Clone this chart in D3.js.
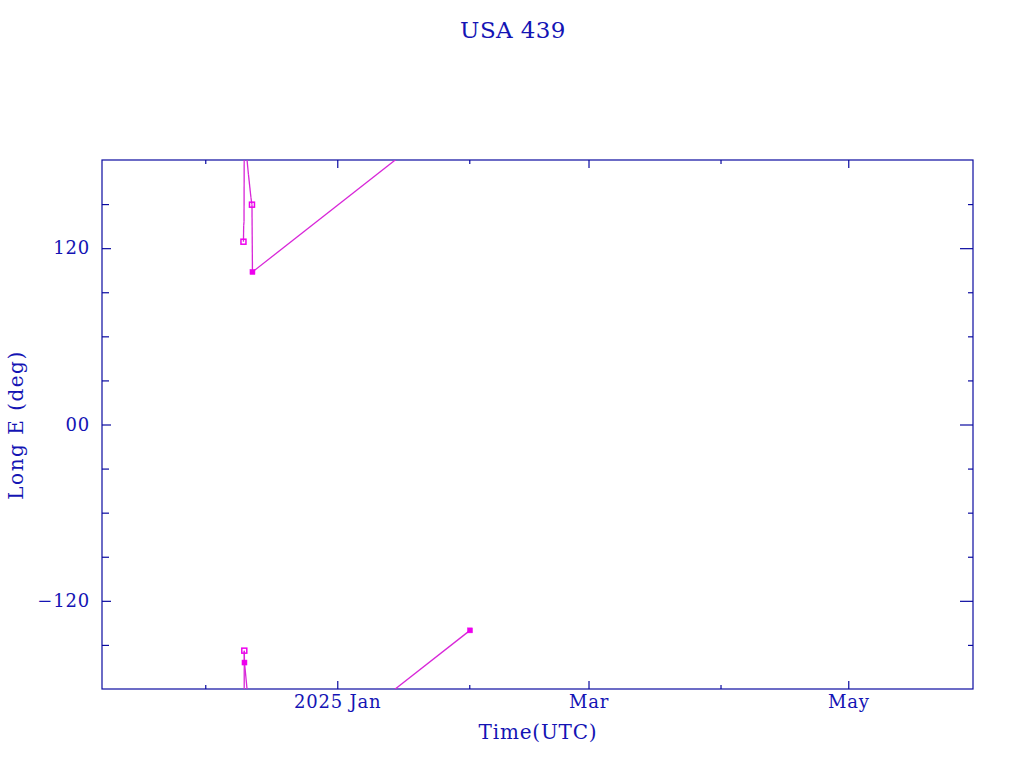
<!DOCTYPE html>
<html>
<head>
<meta charset="utf-8">
<script src="https://cdn.jsdelivr.net/npm/d3@7"></script>
<style>
  html, body { margin: 0; padding: 0; background: #ffffff; }
  svg text { font-family: "DejaVu Serif", "Liberation Serif", serif; fill: #1414b4; }
</style>
</head>
<body>
<svg id="chart" width="1024" height="768"></svg>
<script>
// ---- data ----
const title = "USA 439";
const xLabel = "Time(UTC)";
const yLabel = "Long E (deg)";
const times = [
  "2024-12-09T23:15:00Z", "2024-12-10T00:30:00Z", "2024-12-10T02:30:00Z",
  "2024-12-10T04:00:00Z", "2024-12-10T05:00:00Z", "2024-12-11T03:30:00Z",
  "2024-12-11T17:30:00Z", "2024-12-11T23:15:00Z", "2024-12-12T02:00:00Z",
  "2025-02-01T04:00:00Z"
];
const longitudes = [124.4, 135.3, 138.0, -153.9, -162.0, 170.0, 154.3, 149.6, 103.8, -140.1];
const markers = ["open", "", "", "open", "filled", "", "", "open", "filled", "filled"];
const xDomain = ["2024-11-06T18:00:00Z", "2025-05-30T07:00:00Z"];
const xMajorTicks = ["2025-01-01T00:00:00Z", "2025-03-01T00:00:00Z", "2025-05-01T00:00:00Z"];
const xMajorLabels = ["2025 Jan", "Mar", "May"];
const xMinorTicks = ["2024-12-01T00:00:00Z", "2025-02-01T00:00:00Z", "2025-04-01T00:00:00Z"];
const yMajorTicks = [-120, 0, 120];
const yMajorLabels = ["\u2212120", "00", "120"];
const yMinorTicks = [-150, -90, -60, -30, 30, 60, 90, 150];

// ---- layout ----
const L = 102, R = 973, T = 160, B = 689;
const frameColor = "#0a0aa0";
const lineColor = "#d826d8";
const markColor = "#ee00ee";

const svg = d3.select("#chart");
const x = d3.scaleUtc().domain(xDomain.map(d => new Date(d))).range([L, R]);
const y = d3.scaleLinear().domain([-180, 180]).range([B, T]);

const pts = times.map((t, i) => ({ t: new Date(t), lon: longitudes[i], m: markers[i] }));

// clip
svg.append("defs").append("clipPath").attr("id", "plotclip")
  .append("rect").attr("x", L).attr("y", T).attr("width", R - L).attr("height", B - T);

// frame
svg.append("rect").attr("x", L).attr("y", T).attr("width", R - L).attr("height", B - T)
  .attr("fill", "none").attr("stroke", frameColor).attr("stroke-width", 1.2);

function styleAxis(g) {
  g.select(".domain").remove();
  g.selectAll(".tick line").attr("stroke", frameColor).attr("stroke-width", 1.2);
  g.selectAll(".tick text").style("font-size", "18px").style("letter-spacing", "0.8px")
    .attr("fill", "#1414b4");
}

// bottom axis
const xMajorDates = xMajorTicks.map(d => new Date(d));
const xMinorDates = xMinorTicks.map(d => new Date(d));
svg.append("g").attr("transform", `translate(0,${B})`)
  .call(d3.axisBottom(x).tickValues(xMajorDates).tickSize(-8).tickPadding(6)
    .tickFormat((d, i) => xMajorLabels[i]))
  .call(styleAxis);
svg.append("g").attr("transform", `translate(0,${B})`)
  .call(d3.axisBottom(x).tickValues(xMinorDates).tickSize(-4).tickFormat(""))
  .call(styleAxis);
// top axis
svg.append("g").attr("transform", `translate(0,${T})`)
  .call(d3.axisTop(x).tickValues(xMajorDates).tickSize(-8).tickFormat(""))
  .call(styleAxis);
svg.append("g").attr("transform", `translate(0,${T})`)
  .call(d3.axisTop(x).tickValues(xMinorDates).tickSize(-4).tickFormat(""))
  .call(styleAxis);
// left axis
svg.append("g").attr("transform", `translate(${L},0)`)
  .call(d3.axisLeft(y).tickValues(yMajorTicks).tickSize(-9).tickPadding(12)
    .tickFormat((d, i) => yMajorLabels[i]))
  .call(styleAxis);
svg.append("g").attr("transform", `translate(${L},0)`)
  .call(d3.axisLeft(y).tickValues(yMinorTicks).tickSize(-7).tickFormat(""))
  .call(styleAxis);
// right axis
svg.append("g").attr("transform", `translate(${R},0)`)
  .call(d3.axisRight(y).tickValues(yMajorTicks).tickSize(-13).tickFormat(""))
  .call(styleAxis);
svg.append("g").attr("transform", `translate(${R},0)`)
  .call(d3.axisRight(y).tickValues(yMinorTicks).tickSize(-5).tickFormat(""))
  .call(styleAxis);

// wrap-aware line segments
const segs = [];
for (let i = 0; i < pts.length - 1; i++) {
  const a = pts[i], b = pts[i + 1];
  const diff = b.lon - a.lon;
  if (Math.abs(diff) > 180) {
    const s = Math.sign(diff);
    segs.push([[a.t, a.lon], [b.t, b.lon - 360 * s]]);
    segs.push([[a.t, a.lon + 360 * s], [b.t, b.lon]]);
  } else {
    segs.push([[a.t, a.lon], [b.t, b.lon]]);
  }
}
const line = d3.line().x(d => x(d[0])).y(d => y(d[1]));
const plot = svg.append("g").attr("clip-path", "url(#plotclip)");
plot.selectAll("path.seg").data(segs).join("path")
  .attr("class", "seg")
  .attr("d", line)
  .attr("fill", "none")
  .attr("stroke", lineColor)
  .attr("stroke-width", 1.3);

// markers
const ms = 5;
plot.selectAll("rect.mk").data(pts.filter(p => p.m)).join("rect")
  .attr("class", "mk")
  .attr("x", d => x(d.t) - ms / 2)
  .attr("y", d => y(d.lon) - ms / 2)
  .attr("width", ms).attr("height", ms)
  .attr("fill", d => d.m === "filled" ? markColor : "none")
  .attr("stroke", markColor)
  .attr("stroke-width", d => d.m === "filled" ? 0.5 : 1.5);

// titles
svg.append("text").attr("x", 513).attr("y", 38).attr("text-anchor", "middle")
  .style("font-size", "23px").style("letter-spacing", "0.4px").text(title);
svg.append("text").attr("x", 538).attr("y", 739).attr("text-anchor", "middle")
  .style("font-size", "20px").style("letter-spacing", "0.8px").text(xLabel);
svg.append("text").attr("transform", "translate(23,425) rotate(-90)").attr("text-anchor", "middle")
  .style("font-size", "20px").style("letter-spacing", "1.5px").text(yLabel);
</script>
</body>
</html>
